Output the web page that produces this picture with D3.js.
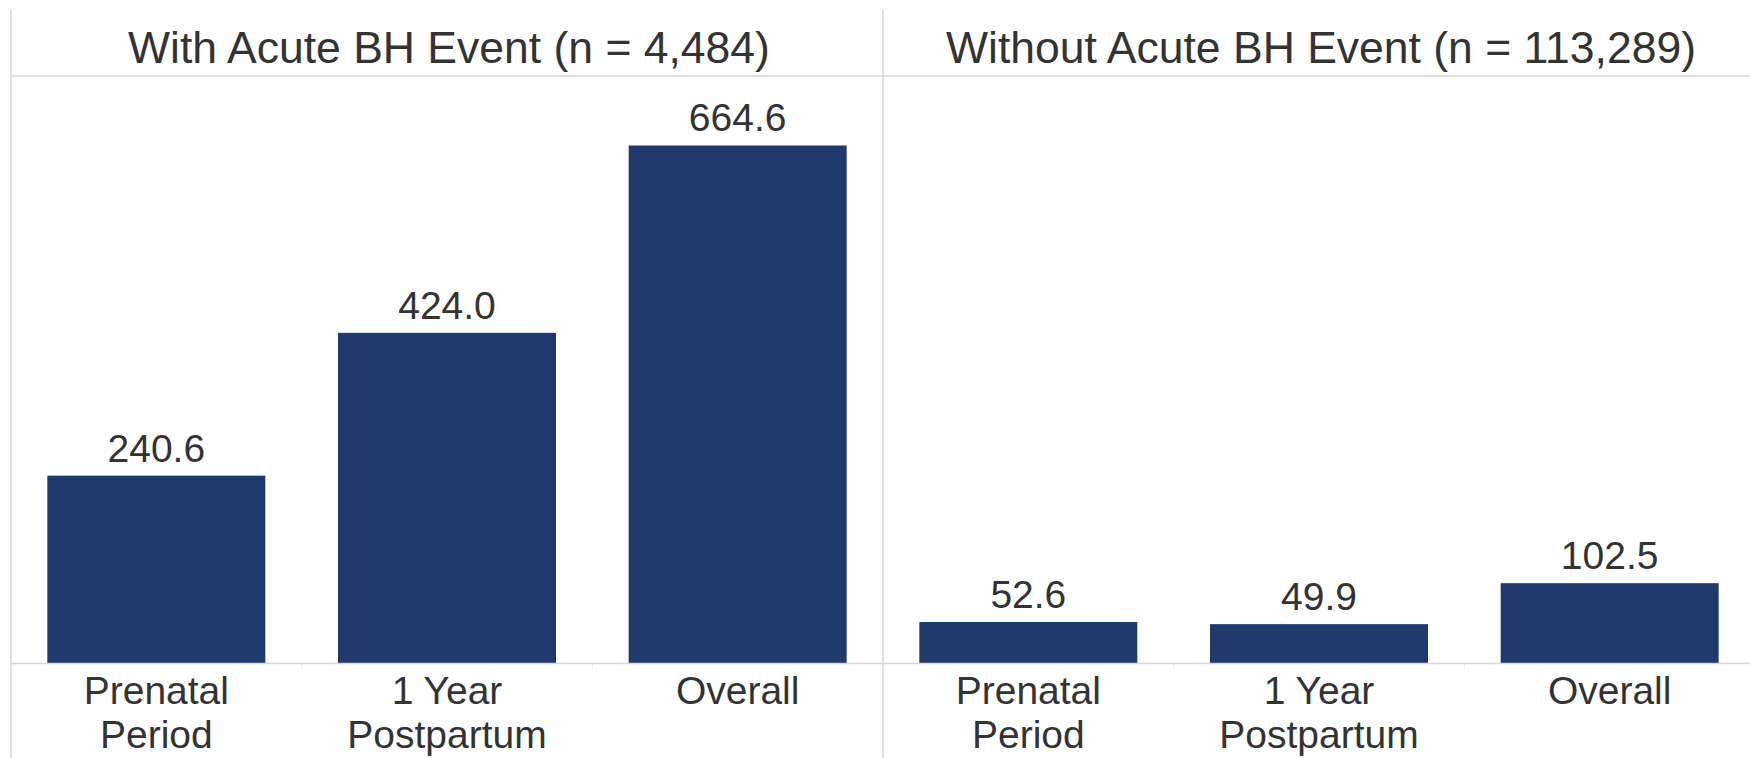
<!DOCTYPE html>
<html>
<head>
<meta charset="utf-8">
<script src="https://cdn.jsdelivr.net/npm/d3@7"></script>
<style>
  html, body { margin: 0; padding: 0; background: #ffffff; }
  svg { display: block; }
  text { font-family: "Liberation Sans", Arial, sans-serif; fill: #333333; }
</style>
</head>
<body>
<svg id="chart" width="1750" height="758"></svg>
<script>
// Rates per panel and category
const panelTitles = ["With Acute BH Event (n = 4,484)", "Without Acute BH Event (n = 113,289)"];
const categories = ["Prenatal Period", "1 Year Postpartum", "Overall"];
const categoryLines = [["Prenatal", "Period"], ["1 Year", "Postpartum"], ["Overall"]];
const withEvent = [240.6, 424.0, 664.6];
const withoutEvent = [52.6, 49.9, 102.5];

const panelValues = [withEvent, withoutEvent];

const svg = d3.select("#chart");
const W = 1750, H = 758;

const gridColor = "#d6d6d6";
const barColor = "#203a6e";

const panelLeft = 11;
const panelWidth = 872;
const headerY = 76;
const baseY = 663;

const panels = d3.scaleBand()
  .domain(panelTitles)
  .range([panelLeft, panelLeft + panelWidth * 2]);

const y = d3.scaleLinear().domain([0, 750]).range([baseY, 79]);
const fmt = d3.format(".1f");

// Header rule under the panel titles
svg.append("line")
  .attr("x1", panelLeft).attr("x2", W)
  .attr("y1", headerY).attr("y2", headerY)
  .attr("stroke", gridColor).attr("stroke-width", 1.5);

// Panel dividers
panelTitles.forEach(t => {
  const x0 = panels(t);
  svg.append("line")
    .attr("x1", x0).attr("x2", x0)
    .attr("y1", 9).attr("y2", H)
    .attr("stroke", gridColor).attr("stroke-width", 1.5);
});

panelTitles.forEach((title, pi) => {
  const x0 = panels(title);
  const g = svg.append("g");

  const x = d3.scaleBand()
    .domain(categories)
    .range([x0, x0 + panelWidth])
    .paddingInner(0.25)
    .paddingOuter(0.125);

  // Panel title
  g.append("text")
    .attr("x", x0 + panelWidth / 2 + 2)
    .attr("y", 63)
    .attr("text-anchor", "middle")
    .attr("font-size", "44.5px")
    .text(title);

  const data = categories.map((c, i) => ({ cat: c, value: panelValues[pi][i], lines: categoryLines[i] }));

  // Bars
  g.selectAll("rect.bar")
    .data(data)
    .join("rect")
    .attr("class", "bar")
    .attr("x", d => x(d.cat))
    .attr("width", x.bandwidth())
    .attr("y", d => y(d.value))
    .attr("height", d => y(0) - y(d.value))
    .attr("fill", barColor);

  // Value labels
  g.selectAll("text.value")
    .data(data)
    .join("text")
    .attr("class", "value")
    .attr("x", d => x(d.cat) + x.bandwidth() / 2)
    .attr("y", d => y(d.value) - 14)
    .attr("text-anchor", "middle")
    .attr("font-size", "39px")
    .text(d => fmt(d.value));

  // Faint separators between category cells below the axis
  categories.slice(1).forEach(c => {
    const sx = x(c) - x.step() * x.paddingInner() / 2;
    g.append("line")
      .attr("x1", sx).attr("x2", sx)
      .attr("y1", baseY).attr("y2", baseY + 6)
      .attr("stroke", "#ececec").attr("stroke-width", 1);
  });

  // Category labels, one tspan per line
  const lab = g.selectAll("text.cat")
    .data(data)
    .join("text")
    .attr("class", "cat")
    .attr("text-anchor", "middle")
    .attr("font-size", "39px");
  lab.selectAll("tspan")
    .data(d => d.lines.map(l => ({ l, cx: x(d.cat) + x.bandwidth() / 2 })))
    .join("tspan")
    .attr("x", d => d.cx)
    .attr("y", (d, i) => 704 + i * 44)
    .text(d => d.l);
});

// Axis baseline across both panels
svg.append("line")
  .attr("x1", panelLeft).attr("x2", W)
  .attr("y1", baseY + 0.5).attr("y2", baseY + 0.5)
  .attr("stroke", gridColor).attr("stroke-width", 1.5);
</script>
</body>
</html>
